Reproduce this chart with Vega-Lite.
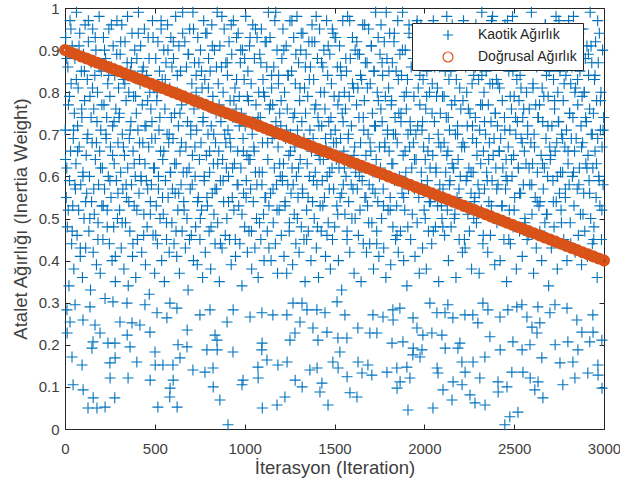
{
"$schema": "https://vega.github.io/schema/vega-lite/v6.json",
"width": 539, "height": 421,
"autosize": {"type": "none"},
"padding": {"left": 65, "top": 8, "right": 16, "bottom": 59},
"background": "white",
"config": {
 "font": "Liberation Sans",
 "view": {"stroke": "#262626", "strokeWidth": 1},
 "axis": {"domain": false, "grid": false, "tickSize": -5, "tickColor": "#262626", "tickWidth": 1, "labelFlush": false, "labelFont": "Liberation Sans", "labelFontSize": 15, "labelColor": "#404040", "titleFont": "Liberation Sans", "titleFontSize": 18.5, "titleFontWeight": "normal", "titleColor": "#404040"},
 "legend": {"title": null, "padding": 5, "strokeColor": "#262626", "fillColor": "white", "labelFont": "Liberation Sans", "labelFontSize": 14, "labelColor": "#262626", "symbolSize": 100, "symbolOffset": 24, "labelOffset": 23, "rowPadding": 6, "labelLimit": 300, "symbolStrokeWidth": 1.2}
},
"layer": [
 {
  "data": {"values": [
{"t":1,"w":0.71},{"t":4,"w":0.93},{"t":7,"w":0.55},{"t":10,"w":0.62},{"t":13,"w":0.48},{"t":16,"w":0.86},{"t":19,"w":0.77},{"t":22,"w":0.34},{"t":25,"w":0.59},{"t":28,"w":0.97},{"t":31,"w":0.66},{"t":34,"w":0.82},{"t":37,"w":0.44},{"t":40,"w":0.91},{"t":43,"w":0.53},{"t":46,"w":0.69},{"t":49,"w":0.38},{"t":52,"w":0.75},{"t":55,"w":0.88},{"t":58,"w":0.57},
{"t":61,"w":0.63},{"t":64,"w":0.99},{"t":67,"w":0.46},{"t":70,"w":0.72},{"t":73,"w":0.81},{"t":76,"w":0.52},{"t":79,"w":0.67},{"t":82,"w":0.94},{"t":85,"w":0.41},{"t":88,"w":0.58},{"t":91,"w":0.85},{"t":94,"w":0.74},{"t":97,"w":0.36},{"t":100,"w":0.61},{"t":103,"w":0.89},{"t":106,"w":0.50},{"t":109,"w":0.78},{"t":112,"w":0.96},{"t":115,"w":0.43},{"t":118,"w":0.65},
{"t":121,"w":0.56},{"t":124,"w":0.83},{"t":127,"w":0.70},{"t":130,"w":0.92},{"t":133,"w":0.47},{"t":136,"w":0.60},{"t":139,"w":0.79},{"t":142,"w":0.33},{"t":145,"w":0.87},{"t":148,"w":0.54},{"t":151,"w":0.68},{"t":154,"w":0.95},{"t":157,"w":0.42},{"t":160,"w":0.76},{"t":163,"w":0.51},{"t":166,"w":0.84},{"t":169,"w":0.64},{"t":172,"w":0.90},{"t":175,"w":0.39},{"t":178,"w":0.73},
{"t":181,"w":0.80},{"t":184,"w":0.49},{"t":187,"w":0.58},{"t":190,"w":0.98},{"t":193,"w":0.66},{"t":196,"w":0.37},{"t":199,"w":0.71},{"t":202,"w":0.85},{"t":205,"w":0.53},{"t":208,"w":0.62},{"t":211,"w":0.45},{"t":214,"w":0.93},{"t":217,"w":0.77},{"t":220,"w":0.57},{"t":223,"w":0.31},{"t":226,"w":0.88},{"t":229,"w":0.69},{"t":232,"w":0.74},{"t":235,"w":0.52},{"t":238,"w":0.82},
{"t":241,"w":0.60},{"t":244,"w":0.95},{"t":247,"w":0.44},{"t":250,"w":0.79},{"t":253,"w":0.67},{"t":256,"w":0.55},{"t":259,"w":0.86},{"t":262,"w":0.40},{"t":265,"w":0.72},{"t":268,"w":0.91},{"t":271,"w":0.48},{"t":274,"w":0.63},{"t":277,"w":0.84},{"t":280,"w":0.35},{"t":283,"w":0.76},{"t":286,"w":0.59},{"t":289,"w":0.97},{"t":292,"w":0.50},{"t":295,"w":0.68},{"t":298,"w":0.81},
{"t":301,"w":0.74},{"t":304,"w":0.52},{"t":307,"w":0.89},{"t":310,"w":0.61},{"t":313,"w":0.43},{"t":316,"w":0.96},{"t":319,"w":0.70},{"t":322,"w":0.57},{"t":325,"w":0.83},{"t":328,"w":0.38},{"t":331,"w":0.65},{"t":334,"w":0.92},{"t":337,"w":0.49},{"t":340,"w":0.78},{"t":343,"w":0.55},{"t":346,"w":0.87},{"t":349,"w":0.62},{"t":352,"w":0.34},{"t":355,"w":0.80},{"t":358,"w":0.69},
{"t":361,"w":0.47},{"t":364,"w":0.85},{"t":367,"w":0.73},{"t":370,"w":0.58},{"t":373,"w":0.94},{"t":376,"w":0.41},{"t":379,"w":0.66},{"t":382,"w":0.79},{"t":385,"w":0.53},{"t":388,"w":0.90},{"t":391,"w":0.60},{"t":394,"w":0.36},{"t":397,"w":0.75},{"t":400,"w":0.88},{"t":403,"w":0.45},{"t":406,"w":0.71},{"t":409,"w":0.99},{"t":412,"w":0.56},{"t":415,"w":0.64},{"t":418,"w":0.82},
{"t":421,"w":0.91},{"t":424,"w":0.59},{"t":427,"w":0.42},{"t":430,"w":0.77},{"t":433,"w":0.68},{"t":436,"w":0.86},{"t":439,"w":0.51},{"t":442,"w":0.95},{"t":445,"w":0.63},{"t":448,"w":0.39},{"t":451,"w":0.72},{"t":454,"w":0.84},{"t":457,"w":0.48},{"t":460,"w":0.57},{"t":463,"w":0.93},{"t":466,"w":0.67},{"t":469,"w":0.32},{"t":472,"w":0.80},{"t":475,"w":0.54},{"t":478,"w":0.76},
{"t":481,"w":0.58},{"t":484,"w":0.73},{"t":487,"w":0.97},{"t":490,"w":0.46},{"t":493,"w":0.62},{"t":496,"w":0.81},{"t":499,"w":0.37},{"t":502,"w":0.69},{"t":505,"w":0.88},{"t":508,"w":0.53},{"t":511,"w":0.78},{"t":514,"w":0.44},{"t":517,"w":0.92},{"t":520,"w":0.60},{"t":523,"w":0.71},{"t":526,"w":0.85},{"t":529,"w":0.50},{"t":532,"w":0.66},{"t":535,"w":0.95},{"t":538,"w":0.40},
{"t":541,"w":0.83},{"t":544,"w":0.64},{"t":547,"w":0.51},{"t":550,"w":0.90},{"t":553,"w":0.35},{"t":556,"w":0.76},{"t":559,"w":0.59},{"t":562,"w":0.87},{"t":565,"w":0.45},{"t":568,"w":0.70},{"t":571,"w":0.96},{"t":574,"w":0.55},{"t":577,"w":0.68},{"t":580,"w":0.42},{"t":583,"w":0.81},{"t":586,"w":0.61},{"t":589,"w":0.93},{"t":592,"w":0.74},{"t":595,"w":0.49},{"t":598,"w":0.57},
{"t":601,"w":0.69},{"t":604,"w":0.88},{"t":607,"w":0.44},{"t":610,"w":0.75},{"t":613,"w":0.56},{"t":616,"w":0.98},{"t":619,"w":0.63},{"t":622,"w":0.41},{"t":625,"w":0.80},{"t":628,"w":0.52},{"t":631,"w":0.72},{"t":634,"w":0.91},{"t":637,"w":0.37},{"t":640,"w":0.66},{"t":643,"w":0.85},{"t":646,"w":0.58},{"t":649,"w":0.77},{"t":652,"w":0.47},{"t":655,"w":0.94},{"t":658,"w":0.61},
{"t":661,"w":0.54},{"t":664,"w":0.79},{"t":667,"w":0.92},{"t":670,"w":0.43},{"t":673,"w":0.67},{"t":676,"w":0.86},{"t":679,"w":0.50},{"t":682,"w":0.73},{"t":685,"w":0.33},{"t":688,"w":0.89},{"t":691,"w":0.62},{"t":694,"w":0.95},{"t":697,"w":0.57},{"t":700,"w":0.70},{"t":703,"w":0.46},{"t":706,"w":0.82},{"t":709,"w":0.65},{"t":712,"w":0.99},{"t":715,"w":0.40},{"t":718,"w":0.76},
{"t":721,"w":0.87},{"t":724,"w":0.60},{"t":727,"w":0.48},{"t":730,"w":0.84},{"t":733,"w":0.71},{"t":736,"w":0.39},{"t":739,"w":0.93},{"t":742,"w":0.55},{"t":745,"w":0.78},{"t":748,"w":0.64},{"t":751,"w":0.45},{"t":754,"w":0.90},{"t":757,"w":0.68},{"t":760,"w":0.52},{"t":763,"w":0.81},{"t":766,"w":0.36},{"t":769,"w":0.74},{"t":772,"w":0.97},{"t":775,"w":0.59},{"t":778,"w":0.83},
{"t":781,"w":0.42},{"t":784,"w":0.77},{"t":787,"w":0.65},{"t":790,"w":0.94},{"t":793,"w":0.53},{"t":796,"w":0.70},{"t":799,"w":0.88},{"t":802,"w":0.47},{"t":805,"w":0.61},{"t":808,"w":0.85},{"t":811,"w":0.38},{"t":814,"w":0.72},{"t":817,"w":0.96},{"t":820,"w":0.56},{"t":823,"w":0.79},{"t":826,"w":0.63},{"t":829,"w":0.51},{"t":832,"w":0.90},{"t":835,"w":0.44},{"t":838,"w":0.68},
{"t":841,"w":0.75},{"t":844,"w":0.57},{"t":847,"w":0.99},{"t":850,"w":0.49},{"t":853,"w":0.82},{"t":856,"w":0.66},{"t":859,"w":0.35},{"t":862,"w":0.91},{"t":865,"w":0.59},{"t":868,"w":0.73},{"t":871,"w":0.86},{"t":874,"w":0.43},{"t":877,"w":0.64},{"t":880,"w":0.80},{"t":883,"w":0.54},{"t":886,"w":0.95},{"t":889,"w":0.70},{"t":892,"w":0.46},{"t":895,"w":0.87},{"t":898,"w":0.62},
{"t":901,"w":0.50},{"t":904,"w":0.84},{"t":907,"w":0.71},{"t":910,"w":0.60},{"t":913,"w":0.92},{"t":916,"w":0.45},{"t":919,"w":0.78},{"t":922,"w":0.67},{"t":925,"w":0.39},{"t":928,"w":0.89},{"t":931,"w":0.55},{"t":934,"w":0.74},{"t":937,"w":0.97},{"t":940,"w":0.52},{"t":943,"w":0.63},{"t":946,"w":0.81},{"t":949,"w":0.41},{"t":952,"w":0.76},{"t":955,"w":0.93},{"t":958,"w":0.58},
{"t":961,"w":0.66},{"t":964,"w":0.94},{"t":967,"w":0.53},{"t":970,"w":0.79},{"t":973,"w":0.44},{"t":976,"w":0.87},{"t":979,"w":0.62},{"t":982,"w":0.75},{"t":985,"w":0.34},{"t":988,"w":0.90},{"t":991,"w":0.69},{"t":994,"w":0.56},{"t":997,"w":0.83},{"t":1000,"w":0.48},{"t":1003,"w":0.72},{"t":1006,"w":0.98},{"t":1009,"w":0.59},{"t":1012,"w":0.65},{"t":1015,"w":0.42},{"t":1018,"w":0.85},
{"t":1021,"w":0.78},{"t":1024,"w":0.47},{"t":1027,"w":0.91},{"t":1030,"w":0.64},{"t":1033,"w":0.57},{"t":1036,"w":0.82},{"t":1039,"w":0.38},{"t":1042,"w":0.70},{"t":1045,"w":0.96},{"t":1048,"w":0.54},{"t":1051,"w":0.67},{"t":1054,"w":0.88},{"t":1057,"w":0.43},{"t":1060,"w":0.61},{"t":1063,"w":0.77},{"t":1066,"w":0.50},{"t":1069,"w":0.93},{"t":1072,"w":0.73},{"t":1075,"w":0.36},{"t":1078,"w":0.80},
{"t":1081,"w":0.61},{"t":1084,"w":0.89},{"t":1087,"w":0.74},{"t":1090,"w":0.45},{"t":1093,"w":0.95},{"t":1096,"w":0.58},{"t":1099,"w":0.68},{"t":1102,"w":0.83},{"t":1105,"w":0.51},{"t":1108,"w":0.40},{"t":1111,"w":0.79},{"t":1114,"w":0.92},{"t":1117,"w":0.55},{"t":1120,"w":0.71},{"t":1123,"w":0.86},{"t":1126,"w":0.47},{"t":1129,"w":0.64},{"t":1132,"w":0.99},{"t":1135,"w":0.53},{"t":1138,"w":0.76},
{"t":1141,"w":0.93},{"t":1144,"w":0.56},{"t":1147,"w":0.40},{"t":1150,"w":0.81},{"t":1153,"w":0.69},{"t":1156,"w":0.77},{"t":1159,"w":0.49},{"t":1162,"w":0.86},{"t":1165,"w":0.62},{"t":1168,"w":0.97},{"t":1171,"w":0.44},{"t":1174,"w":0.73},{"t":1177,"w":0.58},{"t":1180,"w":0.90},{"t":1183,"w":0.37},{"t":1186,"w":0.67},{"t":1189,"w":0.84},{"t":1192,"w":0.52},{"t":1195,"w":0.75},{"t":1198,"w":0.60},
{"t":1201,"w":0.72},{"t":1204,"w":0.46},{"t":1207,"w":0.88},{"t":1210,"w":0.59},{"t":1213,"w":0.95},{"t":1216,"w":0.63},{"t":1219,"w":0.41},{"t":1222,"w":0.80},{"t":1225,"w":0.54},{"t":1228,"w":0.69},{"t":1231,"w":0.91},{"t":1234,"w":0.37},{"t":1237,"w":0.76},{"t":1240,"w":0.58},{"t":1243,"w":0.84},{"t":1246,"w":0.65},{"t":1249,"w":0.49},{"t":1252,"w":0.97},{"t":1255,"w":0.70},{"t":1258,"w":0.56},
{"t":1261,"w":0.85},{"t":1264,"w":0.62},{"t":1267,"w":0.39},{"t":1270,"w":0.74},{"t":1273,"w":0.93},{"t":1276,"w":0.51},{"t":1279,"w":0.67},{"t":1282,"w":0.82},{"t":1285,"w":0.44},{"t":1288,"w":0.60},{"t":1291,"w":0.98},{"t":1294,"w":0.71},{"t":1297,"w":0.55},{"t":1300,"w":0.87},{"t":1303,"w":0.42},{"t":1306,"w":0.78},{"t":1309,"w":0.64},{"t":1312,"w":0.90},{"t":1315,"w":0.48},{"t":1318,"w":0.73},
{"t":1321,"w":0.57},{"t":1324,"w":0.94},{"t":1327,"w":0.68},{"t":1330,"w":0.45},{"t":1333,"w":0.81},{"t":1336,"w":0.35},{"t":1339,"w":0.75},{"t":1342,"w":0.89},{"t":1345,"w":0.52},{"t":1348,"w":0.63},{"t":1351,"w":0.79},{"t":1354,"w":0.47},{"t":1357,"w":0.92},{"t":1360,"w":0.60},{"t":1363,"w":0.71},{"t":1366,"w":0.86},{"t":1369,"w":0.40},{"t":1372,"w":0.66},{"t":1375,"w":0.96},{"t":1378,"w":0.54},
{"t":1381,"w":0.69},{"t":1384,"w":0.83},{"t":1387,"w":0.50},{"t":1390,"w":0.92},{"t":1393,"w":0.61},{"t":1396,"w":0.77},{"t":1399,"w":0.43},{"t":1402,"w":0.58},{"t":1405,"w":0.88},{"t":1408,"w":0.74},{"t":1411,"w":0.36},{"t":1414,"w":0.65},{"t":1417,"w":0.95},{"t":1420,"w":0.53},{"t":1423,"w":0.80},{"t":1426,"w":0.47},{"t":1429,"w":0.72},{"t":1432,"w":0.59},{"t":1435,"w":0.86},{"t":1438,"w":0.64},
{"t":1441,"w":0.90},{"t":1444,"w":0.55},{"t":1447,"w":0.76},{"t":1450,"w":0.41},{"t":1453,"w":0.67},{"t":1456,"w":0.97},{"t":1459,"w":0.60},{"t":1462,"w":0.84},{"t":1465,"w":0.49},{"t":1468,"w":0.73},{"t":1471,"w":0.57},{"t":1474,"w":0.89},{"t":1477,"w":0.38},{"t":1480,"w":0.70},{"t":1483,"w":0.82},{"t":1486,"w":0.62},{"t":1489,"w":0.45},{"t":1492,"w":0.94},{"t":1495,"w":0.68},{"t":1498,"w":0.79},
{"t":1501,"w":0.48},{"t":1504,"w":0.71},{"t":1507,"w":0.93},{"t":1510,"w":0.64},{"t":1513,"w":0.53},{"t":1516,"w":0.86},{"t":1519,"w":0.77},{"t":1522,"w":0.40},{"t":1525,"w":0.62},{"t":1528,"w":0.91},{"t":1531,"w":0.55},{"t":1534,"w":0.69},{"t":1537,"w":0.84},{"t":1540,"w":0.33},{"t":1543,"w":0.75},{"t":1546,"w":0.97},{"t":1549,"w":0.58},{"t":1552,"w":0.66},{"t":1555,"w":0.80},{"t":1558,"w":0.51},
{"t":1561,"w":0.76},{"t":1564,"w":0.60},{"t":1567,"w":0.85},{"t":1570,"w":0.47},{"t":1573,"w":0.98},{"t":1576,"w":0.69},{"t":1579,"w":0.54},{"t":1582,"w":0.79},{"t":1585,"w":0.42},{"t":1588,"w":0.88},{"t":1591,"w":0.63},{"t":1594,"w":0.72},{"t":1597,"w":0.50},{"t":1600,"w":0.93},{"t":1603,"w":0.57},{"t":1606,"w":0.81},{"t":1609,"w":0.37},{"t":1612,"w":0.67},{"t":1615,"w":0.90},{"t":1618,"w":0.61},
{"t":1621,"w":0.63},{"t":1624,"w":0.92},{"t":1627,"w":0.57},{"t":1630,"w":0.81},{"t":1633,"w":0.46},{"t":1636,"w":0.74},{"t":1639,"w":0.89},{"t":1642,"w":0.52},{"t":1645,"w":0.68},{"t":1648,"w":0.35},{"t":1651,"w":0.83},{"t":1654,"w":0.59},{"t":1657,"w":0.96},{"t":1660,"w":0.44},{"t":1663,"w":0.71},{"t":1666,"w":0.78},{"t":1669,"w":0.55},{"t":1672,"w":0.87},{"t":1675,"w":0.65},{"t":1678,"w":0.42},
{"t":1681,"w":0.87},{"t":1684,"w":0.53},{"t":1687,"w":0.70},{"t":1690,"w":0.95},{"t":1693,"w":0.58},{"t":1696,"w":0.44},{"t":1699,"w":0.82},{"t":1702,"w":0.66},{"t":1705,"w":0.91},{"t":1708,"w":0.49},{"t":1711,"w":0.75},{"t":1714,"w":0.61},{"t":1717,"w":0.38},{"t":1720,"w":0.85},{"t":1723,"w":0.72},{"t":1726,"w":0.56},{"t":1729,"w":0.99},{"t":1732,"w":0.64},{"t":1735,"w":0.47},{"t":1738,"w":0.80},
{"t":1741,"w":0.54},{"t":1744,"w":0.78},{"t":1747,"w":0.41},{"t":1750,"w":0.67},{"t":1753,"w":0.89},{"t":1756,"w":0.62},{"t":1759,"w":0.96},{"t":1762,"w":0.50},{"t":1765,"w":0.73},{"t":1768,"w":0.84},{"t":1771,"w":0.57},{"t":1774,"w":0.43},{"t":1777,"w":0.92},{"t":1780,"w":0.68},{"t":1783,"w":0.79},{"t":1786,"w":0.36},{"t":1789,"w":0.60},{"t":1792,"w":0.88},{"t":1795,"w":0.71},{"t":1798,"w":0.52},
{"t":1801,"w":0.81},{"t":1804,"w":0.66},{"t":1807,"w":0.94},{"t":1810,"w":0.55},{"t":1813,"w":0.39},{"t":1816,"w":0.77},{"t":1819,"w":0.63},{"t":1822,"w":0.87},{"t":1825,"w":0.48},{"t":1828,"w":0.70},{"t":1831,"w":0.92},{"t":1834,"w":0.59},{"t":1837,"w":0.74},{"t":1840,"w":0.45},{"t":1843,"w":0.85},{"t":1846,"w":0.53},{"t":1849,"w":0.68},{"t":1852,"w":0.97},{"t":1855,"w":0.42},{"t":1858,"w":0.75},
{"t":1861,"w":0.60},{"t":1864,"w":0.89},{"t":1867,"w":0.47},{"t":1870,"w":0.73},{"t":1873,"w":0.84},{"t":1876,"w":0.56},{"t":1879,"w":0.99},{"t":1882,"w":0.65},{"t":1885,"w":0.40},{"t":1888,"w":0.79},{"t":1891,"w":0.52},{"t":1894,"w":0.90},{"t":1897,"w":0.61},{"t":1900,"w":0.76},{"t":1903,"w":0.34},{"t":1906,"w":0.83},{"t":1909,"w":0.70},{"t":1912,"w":0.57},{"t":1915,"w":0.94},{"t":1918,"w":0.67},
{"t":1921,"w":0.73},{"t":1924,"w":0.45},{"t":1927,"w":0.86},{"t":1930,"w":0.62},{"t":1933,"w":0.51},{"t":1936,"w":0.93},{"t":1939,"w":0.68},{"t":1942,"w":0.79},{"t":1945,"w":0.57},{"t":1948,"w":0.41},{"t":1951,"w":0.88},{"t":1954,"w":0.64},{"t":1957,"w":0.96},{"t":1960,"w":0.49},{"t":1963,"w":0.72},{"t":1966,"w":0.81},{"t":1969,"w":0.55},{"t":1972,"w":0.37},{"t":1975,"w":0.77},{"t":1978,"w":0.91},
{"t":1981,"w":0.96},{"t":1984,"w":0.58},{"t":1987,"w":0.71},{"t":1990,"w":0.43},{"t":1993,"w":0.83},{"t":1996,"w":0.67},{"t":1999,"w":0.52},{"t":2002,"w":0.90},{"t":2005,"w":0.64},{"t":2008,"w":0.76},{"t":2011,"w":0.38},{"t":2014,"w":0.85},{"t":2017,"w":0.59},{"t":2020,"w":0.94},{"t":2023,"w":0.47},{"t":2026,"w":0.69},{"t":2029,"w":0.80},{"t":2032,"w":0.62},{"t":2035,"w":0.54},{"t":2038,"w":0.88},
{"t":2041,"w":0.44},{"t":2044,"w":0.82},{"t":2047,"w":0.65},{"t":2050,"w":0.97},{"t":2053,"w":0.56},{"t":2056,"w":0.73},{"t":2059,"w":0.89},{"t":2062,"w":0.48},{"t":2065,"w":0.61},{"t":2068,"w":0.79},{"t":2071,"w":0.93},{"t":2074,"w":0.53},{"t":2077,"w":0.70},{"t":2080,"w":0.35},{"t":2083,"w":0.86},{"t":2086,"w":0.58},{"t":2089,"w":0.75},{"t":2092,"w":0.67},{"t":2095,"w":0.91},{"t":2098,"w":0.50},
{"t":2101,"w":0.79},{"t":2104,"w":0.57},{"t":2107,"w":0.92},{"t":2110,"w":0.68},{"t":2113,"w":0.46},{"t":2116,"w":0.85},{"t":2119,"w":0.61},{"t":2122,"w":0.74},{"t":2125,"w":0.98},{"t":2128,"w":0.52},{"t":2131,"w":0.66},{"t":2134,"w":0.40},{"t":2137,"w":0.83},{"t":2140,"w":0.71},{"t":2143,"w":0.59},{"t":2146,"w":0.95},{"t":2149,"w":0.48},{"t":2152,"w":0.77},{"t":2155,"w":0.63},{"t":2158,"w":0.87},
{"t":2161,"w":0.62},{"t":2164,"w":0.91},{"t":2167,"w":0.50},{"t":2170,"w":0.78},{"t":2173,"w":0.70},{"t":2176,"w":0.36},{"t":2179,"w":0.87},{"t":2182,"w":0.55},{"t":2185,"w":0.72},{"t":2188,"w":0.64},{"t":2191,"w":0.94},{"t":2194,"w":0.45},{"t":2197,"w":0.81},{"t":2200,"w":0.60},{"t":2203,"w":0.76},{"t":2206,"w":0.53},{"t":2209,"w":0.89},{"t":2212,"w":0.42},{"t":2215,"w":0.68},{"t":2218,"w":0.97},
{"t":2221,"w":0.88},{"t":2224,"w":0.67},{"t":2227,"w":0.43},{"t":2230,"w":0.86},{"t":2233,"w":0.59},{"t":2236,"w":0.80},{"t":2239,"w":0.72},{"t":2242,"w":0.51},{"t":2245,"w":0.95},{"t":2248,"w":0.62},{"t":2251,"w":0.47},{"t":2254,"w":0.75},{"t":2257,"w":0.90},{"t":2260,"w":0.56},{"t":2263,"w":0.38},{"t":2266,"w":0.82},{"t":2269,"w":0.69},{"t":2272,"w":0.61},{"t":2275,"w":0.84},{"t":2278,"w":0.54},
{"t":2281,"w":0.55},{"t":2284,"w":0.74},{"t":2287,"w":0.96},{"t":2290,"w":0.49},{"t":2293,"w":0.65},{"t":2296,"w":0.91},{"t":2299,"w":0.58},{"t":2302,"w":0.83},{"t":2305,"w":0.37},{"t":2308,"w":0.71},{"t":2311,"w":0.86},{"t":2314,"w":0.63},{"t":2317,"w":0.52},{"t":2320,"w":0.99},{"t":2323,"w":0.77},{"t":2326,"w":0.44},{"t":2329,"w":0.66},{"t":2332,"w":0.80},{"t":2335,"w":0.57},{"t":2338,"w":0.93},
{"t":2341,"w":0.70},{"t":2344,"w":0.85},{"t":2347,"w":0.61},{"t":2350,"w":0.92},{"t":2353,"w":0.42},{"t":2356,"w":0.77},{"t":2359,"w":0.54},{"t":2362,"w":0.68},{"t":2365,"w":0.89},{"t":2368,"w":0.46},{"t":2371,"w":0.73},{"t":2374,"w":0.97},{"t":2377,"w":0.59},{"t":2380,"w":0.82},{"t":2383,"w":0.65},{"t":2386,"w":0.50},{"t":2389,"w":0.87},{"t":2392,"w":0.39},{"t":2395,"w":0.75},{"t":2398,"w":0.62},
{"t":2401,"w":0.83},{"t":2404,"w":0.49},{"t":2407,"w":0.72},{"t":2410,"w":0.58},{"t":2413,"w":0.94},{"t":2416,"w":0.66},{"t":2419,"w":0.81},{"t":2422,"w":0.40},{"t":2425,"w":0.69},{"t":2428,"w":0.90},{"t":2431,"w":0.53},{"t":2434,"w":0.78},{"t":2437,"w":0.62},{"t":2440,"w":0.87},{"t":2443,"w":0.45},{"t":2446,"w":0.74},{"t":2449,"w":0.96},{"t":2452,"w":0.57},{"t":2455,"w":0.64},{"t":2458,"w":0.35},
{"t":2461,"w":0.59},{"t":2464,"w":0.93},{"t":2467,"w":0.67},{"t":2470,"w":0.85},{"t":2473,"w":0.52},{"t":2476,"w":0.71},{"t":2479,"w":0.44},{"t":2482,"w":0.88},{"t":2485,"w":0.76},{"t":2488,"w":0.60},{"t":2491,"w":0.98},{"t":2494,"w":0.48},{"t":2497,"w":0.65},{"t":2500,"w":0.79},{"t":2503,"w":0.55},{"t":2506,"w":0.91},{"t":2509,"w":0.70},{"t":2512,"w":0.38},{"t":2515,"w":0.83},{"t":2518,"w":0.73},
{"t":2521,"w":0.91},{"t":2524,"w":0.62},{"t":2527,"w":0.78},{"t":2530,"w":0.47},{"t":2533,"w":0.84},{"t":2536,"w":0.56},{"t":2539,"w":0.69},{"t":2542,"w":0.95},{"t":2545,"w":0.41},{"t":2548,"w":0.74},{"t":2551,"w":0.58},{"t":2554,"w":0.87},{"t":2557,"w":0.66},{"t":2560,"w":0.50},{"t":2563,"w":0.93},{"t":2566,"w":0.63},{"t":2569,"w":0.80},{"t":2572,"w":0.45},{"t":2575,"w":0.72},{"t":2578,"w":0.89},
{"t":2581,"w":0.46},{"t":2584,"w":0.76},{"t":2587,"w":0.58},{"t":2590,"w":0.89},{"t":2593,"w":0.68},{"t":2596,"w":0.99},{"t":2599,"w":0.51},{"t":2602,"w":0.63},{"t":2605,"w":0.82},{"t":2608,"w":0.37},{"t":2611,"w":0.70},{"t":2614,"w":0.92},{"t":2617,"w":0.55},{"t":2620,"w":0.77},{"t":2623,"w":0.43},{"t":2626,"w":0.86},{"t":2629,"w":0.61},{"t":2632,"w":0.74},{"t":2635,"w":0.95},{"t":2638,"w":0.53},
{"t":2641,"w":0.77},{"t":2644,"w":0.54},{"t":2647,"w":0.92},{"t":2650,"w":0.65},{"t":2653,"w":0.40},{"t":2656,"w":0.81},{"t":2659,"w":0.73},{"t":2662,"w":0.57},{"t":2665,"w":0.88},{"t":2668,"w":0.62},{"t":2671,"w":0.49},{"t":2674,"w":0.96},{"t":2677,"w":0.69},{"t":2680,"w":0.84},{"t":2683,"w":0.51},{"t":2686,"w":0.60},{"t":2689,"w":0.79},{"t":2692,"w":0.34},{"t":2695,"w":0.90},{"t":2698,"w":0.67},
{"t":2701,"w":0.64},{"t":2704,"w":0.87},{"t":2707,"w":0.43},{"t":2710,"w":0.72},{"t":2713,"w":0.95},{"t":2716,"w":0.59},{"t":2719,"w":0.83},{"t":2722,"w":0.48},{"t":2725,"w":0.76},{"t":2728,"w":0.66},{"t":2731,"w":0.91},{"t":2734,"w":0.54},{"t":2737,"w":0.68},{"t":2740,"w":0.38},{"t":2743,"w":0.80},{"t":2746,"w":0.73},{"t":2749,"w":0.97},{"t":2752,"w":0.56},{"t":2755,"w":0.85},{"t":2758,"w":0.61},
{"t":2761,"w":0.52},{"t":2764,"w":0.70},{"t":2767,"w":0.89},{"t":2770,"w":0.61},{"t":2773,"w":0.78},{"t":2776,"w":0.45},{"t":2779,"w":0.93},{"t":2782,"w":0.67},{"t":2785,"w":0.55},{"t":2788,"w":0.84},{"t":2791,"w":0.71},{"t":2794,"w":0.40},{"t":2797,"w":0.86},{"t":2800,"w":0.63},{"t":2803,"w":0.97},{"t":2806,"w":0.58},{"t":2809,"w":0.75},{"t":2812,"w":0.49},{"t":2815,"w":0.82},{"t":2818,"w":0.69},
{"t":2821,"w":0.86},{"t":2824,"w":0.60},{"t":2827,"w":0.74},{"t":2830,"w":0.98},{"t":2833,"w":0.53},{"t":2836,"w":0.66},{"t":2839,"w":0.42},{"t":2842,"w":0.81},{"t":2845,"w":0.69},{"t":2848,"w":0.90},{"t":2851,"w":0.57},{"t":2854,"w":0.77},{"t":2857,"w":0.46},{"t":2860,"w":0.94},{"t":2863,"w":0.62},{"t":2866,"w":0.85},{"t":2869,"w":0.51},{"t":2872,"w":0.72},{"t":2875,"w":0.39},{"t":2878,"w":0.79},
{"t":2881,"w":0.68},{"t":2884,"w":0.95},{"t":2887,"w":0.56},{"t":2890,"w":0.80},{"t":2893,"w":0.47},{"t":2896,"w":0.88},{"t":2899,"w":0.63},{"t":2902,"w":0.73},{"t":2905,"w":0.91},{"t":2908,"w":0.41},{"t":2911,"w":0.65},{"t":2914,"w":0.84},{"t":2917,"w":0.59},{"t":2920,"w":0.76},{"t":2923,"w":0.99},{"t":2926,"w":0.50},{"t":2929,"w":0.70},{"t":2932,"w":0.87},{"t":2935,"w":0.44},{"t":2938,"w":0.62},
{"t":2941,"w":0.75},{"t":2944,"w":0.48},{"t":2947,"w":0.83},{"t":2950,"w":0.66},{"t":2953,"w":0.92},{"t":2956,"w":0.55},{"t":2959,"w":0.78},{"t":2962,"w":0.36},{"t":2965,"w":0.69},{"t":2968,"w":0.87},{"t":2971,"w":0.60},{"t":2974,"w":0.94},{"t":2977,"w":0.53},{"t":2980,"w":0.71},{"t":2983,"w":0.80},{"t":2986,"w":0.45},{"t":2989,"w":0.67},{"t":2992,"w":0.90},{"t":2995,"w":0.58},{"t":2998,"w":0.74},
{"t":3,"w":0.64},{"t":10,"w":0.88},{"t":18,"w":0.52},{"t":25,"w":0.79},{"t":33,"w":0.95},{"t":40,"w":0.47},{"t":48,"w":0.71},{"t":55,"w":0.58},{"t":63,"w":0.83},{"t":70,"w":0.66},{"t":78,"w":0.91},{"t":85,"w":0.43},{"t":93,"w":0.76},{"t":100,"w":0.60},{"t":108,"w":0.85},{"t":115,"w":0.54},{"t":123,"w":0.69},{"t":130,"w":0.97},{"t":138,"w":0.50},{"t":145,"w":0.74},
{"t":153,"w":0.81},{"t":160,"w":0.57},{"t":168,"w":0.93},{"t":175,"w":0.68},{"t":183,"w":0.45},{"t":190,"w":0.86},{"t":198,"w":0.62},{"t":205,"w":0.77},{"t":213,"w":0.53},{"t":220,"w":0.90},{"t":228,"w":0.70},{"t":235,"w":0.48},{"t":243,"w":0.84},{"t":250,"w":0.59},{"t":258,"w":0.96},{"t":265,"w":0.65},{"t":273,"w":0.73},{"t":280,"w":0.41},{"t":288,"w":0.89},{"t":295,"w":0.56},
{"t":303,"w":0.75},{"t":310,"w":0.92},{"t":318,"w":0.49},{"t":325,"w":0.67},{"t":333,"w":0.82},{"t":340,"w":0.58},{"t":348,"w":0.98},{"t":355,"w":0.54},{"t":363,"w":0.71},{"t":370,"w":0.87},{"t":378,"w":0.44},{"t":385,"w":0.63},{"t":393,"w":0.79},{"t":400,"w":0.52},{"t":408,"w":0.94},{"t":415,"w":0.68},{"t":423,"w":0.60},{"t":430,"w":0.85},{"t":438,"w":0.46},{"t":445,"w":0.72},
{"t":453,"w":0.59},{"t":460,"w":0.78},{"t":468,"w":0.88},{"t":475,"w":0.51},{"t":483,"w":0.69},{"t":490,"w":0.93},{"t":498,"w":0.62},{"t":505,"w":0.46},{"t":513,"w":0.80},{"t":520,"w":0.57},{"t":528,"w":0.74},{"t":535,"w":0.97},{"t":543,"w":0.55},{"t":550,"w":0.66},{"t":558,"w":0.83},{"t":565,"w":0.49},{"t":573,"w":0.90},{"t":580,"w":0.70},{"t":588,"w":0.61},{"t":595,"w":0.86},
{"t":603,"w":0.92},{"t":610,"w":0.63},{"t":618,"w":0.47},{"t":625,"w":0.84},{"t":633,"w":0.56},{"t":640,"w":0.75},{"t":648,"w":0.68},{"t":655,"w":0.99},{"t":663,"w":0.52},{"t":670,"w":0.79},{"t":678,"w":0.61},{"t":685,"w":0.89},{"t":693,"w":0.45},{"t":700,"w":0.72},{"t":708,"w":0.58},{"t":715,"w":0.95},{"t":723,"w":0.67},{"t":730,"w":0.80},{"t":738,"w":0.54},{"t":745,"w":0.87},
{"t":753,"w":0.50},{"t":760,"w":0.85},{"t":768,"w":0.73},{"t":775,"w":0.60},{"t":783,"w":0.94},{"t":790,"w":0.55},{"t":798,"w":0.81},{"t":805,"w":0.66},{"t":813,"w":0.48},{"t":820,"w":0.91},{"t":828,"w":0.70},{"t":835,"w":0.57},{"t":843,"w":0.86},{"t":850,"w":0.63},{"t":858,"w":0.77},{"t":865,"w":0.44},{"t":873,"w":0.98},{"t":880,"w":0.59},{"t":888,"w":0.75},{"t":895,"w":0.68},
{"t":903,"w":0.87},{"t":910,"w":0.54},{"t":918,"w":0.69},{"t":925,"w":0.96},{"t":933,"w":0.62},{"t":940,"w":0.78},{"t":948,"w":0.45},{"t":955,"w":0.83},{"t":963,"w":0.58},{"t":970,"w":0.72},{"t":978,"w":0.90},{"t":985,"w":0.51},{"t":993,"w":0.66},{"t":1000,"w":0.88},{"t":1008,"w":0.55},{"t":1015,"w":0.79},{"t":1023,"w":0.64},{"t":1030,"w":0.93},{"t":1038,"w":0.47},{"t":1045,"w":0.73},
{"t":1053,"w":0.66},{"t":1060,"w":0.95},{"t":1068,"w":0.58},{"t":1075,"w":0.74},{"t":1083,"w":0.49},{"t":1090,"w":0.87},{"t":1098,"w":0.61},{"t":1105,"w":0.80},{"t":1113,"w":0.55},{"t":1120,"w":0.92},{"t":1128,"w":0.68},{"t":1135,"w":0.43},{"t":1143,"w":0.77},{"t":1150,"w":0.84},{"t":1158,"w":0.57},{"t":1165,"w":0.70},{"t":1173,"w":0.99},{"t":1180,"w":0.52},{"t":1188,"w":0.82},{"t":1195,"w":0.63},
{"t":1203,"w":0.78},{"t":1210,"w":0.60},{"t":1218,"w":0.90},{"t":1225,"w":0.53},{"t":1233,"w":0.71},{"t":1240,"w":0.84},{"t":1248,"w":0.47},{"t":1255,"w":0.66},{"t":1263,"w":0.97},{"t":1270,"w":0.58},{"t":1278,"w":0.75},{"t":1285,"w":0.89},{"t":1293,"w":0.50},{"t":1300,"w":0.62},{"t":1308,"w":0.81},{"t":1315,"w":0.94},{"t":1323,"w":0.56},{"t":1330,"w":0.69},{"t":1338,"w":0.86},{"t":1345,"w":0.45},
{"t":1353,"w":0.55},{"t":1360,"w":0.83},{"t":1368,"w":0.67},{"t":1375,"w":0.92},{"t":1383,"w":0.59},{"t":1390,"w":0.76},{"t":1398,"w":0.98},{"t":1405,"w":0.48},{"t":1413,"w":0.72},{"t":1420,"w":0.64},{"t":1428,"w":0.87},{"t":1435,"w":0.53},{"t":1443,"w":0.80},{"t":1450,"w":0.69},{"t":1458,"w":0.46},{"t":1465,"w":0.91},{"t":1473,"w":0.61},{"t":1480,"w":0.74},{"t":1488,"w":0.95},{"t":1495,"w":0.57},
{"t":1503,"w":0.93},{"t":1510,"w":0.68},{"t":1518,"w":0.51},{"t":1525,"w":0.79},{"t":1533,"w":0.86},{"t":1540,"w":0.56},{"t":1548,"w":0.73},{"t":1555,"w":0.62},{"t":1563,"w":0.88},{"t":1570,"w":0.45},{"t":1578,"w":0.70},{"t":1585,"w":0.97},{"t":1593,"w":0.58},{"t":1600,"w":0.82},{"t":1608,"w":0.65},{"t":1615,"w":0.50},{"t":1623,"w":0.77},{"t":1630,"w":0.89},{"t":1638,"w":0.60},{"t":1645,"w":0.84},
{"t":1653,"w":0.62},{"t":1660,"w":0.74},{"t":1668,"w":0.96},{"t":1675,"w":0.55},{"t":1683,"w":0.81},{"t":1690,"w":0.49},{"t":1698,"w":0.68},{"t":1705,"w":0.91},{"t":1713,"w":0.57},{"t":1720,"w":0.85},{"t":1728,"w":0.72},{"t":1735,"w":0.44},{"t":1743,"w":0.93},{"t":1750,"w":0.60},{"t":1758,"w":0.76},{"t":1765,"w":0.87},{"t":1773,"w":0.53},{"t":1780,"w":0.67},{"t":1788,"w":0.99},{"t":1795,"w":0.70},
{"t":1803,"w":0.85},{"t":1810,"w":0.52},{"t":1818,"w":0.78},{"t":1825,"w":0.63},{"t":1833,"w":0.94},{"t":1840,"w":0.70},{"t":1848,"w":0.46},{"t":1855,"w":0.83},{"t":1863,"w":0.59},{"t":1870,"w":0.75},{"t":1878,"w":0.90},{"t":1885,"w":0.55},{"t":1893,"w":0.66},{"t":1900,"w":0.80},{"t":1908,"w":0.48},{"t":1915,"w":0.96},{"t":1923,"w":0.71},{"t":1930,"w":0.58},{"t":1938,"w":0.88},{"t":1945,"w":0.64},
{"t":1953,"w":0.70},{"t":1960,"w":0.97},{"t":1968,"w":0.57},{"t":1975,"w":0.84},{"t":1983,"w":0.61},{"t":1990,"w":0.73},{"t":1998,"w":0.89},{"t":2005,"w":0.50},{"t":2013,"w":0.79},{"t":2020,"w":0.66},{"t":2028,"w":0.54},{"t":2035,"w":0.92},{"t":2043,"w":0.75},{"t":2050,"w":0.47},{"t":2058,"w":0.86},{"t":2065,"w":0.62},{"t":2073,"w":0.81},{"t":2080,"w":0.68},{"t":2088,"w":0.93},{"t":2095,"w":0.53},
{"t":2103,"w":0.48},{"t":2110,"w":0.79},{"t":2118,"w":0.91},{"t":2125,"w":0.65},{"t":2133,"w":0.74},{"t":2140,"w":0.58},{"t":2148,"w":0.85},{"t":2155,"w":0.96},{"t":2163,"w":0.62},{"t":2170,"w":0.51},{"t":2178,"w":0.83},{"t":2185,"w":0.70},{"t":2193,"w":0.57},{"t":2200,"w":0.94},{"t":2208,"w":0.67},{"t":2215,"w":0.78},{"t":2223,"w":0.45},{"t":2230,"w":0.87},{"t":2238,"w":0.60},{"t":2245,"w":0.76},
{"t":2253,"w":0.89},{"t":2260,"w":0.61},{"t":2268,"w":0.72},{"t":2275,"w":0.50},{"t":2283,"w":0.86},{"t":2290,"w":0.68},{"t":2298,"w":0.95},{"t":2305,"w":0.56},{"t":2313,"w":0.77},{"t":2320,"w":0.84},{"t":2328,"w":0.46},{"t":2335,"w":0.73},{"t":2343,"w":0.91},{"t":2350,"w":0.59},{"t":2358,"w":0.64},{"t":2365,"w":0.82},{"t":2373,"w":0.53},{"t":2380,"w":0.98},{"t":2388,"w":0.69},{"t":2395,"w":0.75},
{"t":2403,"w":0.57},{"t":2410,"w":0.82},{"t":2418,"w":0.66},{"t":2425,"w":0.93},{"t":2433,"w":0.53},{"t":2440,"w":0.88},{"t":2448,"w":0.71},{"t":2455,"w":0.60},{"t":2463,"w":0.97},{"t":2470,"w":0.45},{"t":2478,"w":0.79},{"t":2485,"w":0.64},{"t":2493,"w":0.85},{"t":2500,"w":0.52},{"t":2508,"w":0.74},{"t":2515,"w":0.90},{"t":2523,"w":0.62},{"t":2530,"w":0.56},{"t":2538,"w":0.81},{"t":2545,"w":0.68},
{"t":2553,"w":0.76},{"t":2560,"w":0.49},{"t":2568,"w":0.87},{"t":2575,"w":0.70},{"t":2583,"w":0.62},{"t":2590,"w":0.95},{"t":2598,"w":0.58},{"t":2605,"w":0.81},{"t":2613,"w":0.67},{"t":2620,"w":0.92},{"t":2628,"w":0.54},{"t":2635,"w":0.74},{"t":2643,"w":0.47},{"t":2650,"w":0.88},{"t":2658,"w":0.63},{"t":2665,"w":0.79},{"t":2673,"w":0.96},{"t":2680,"w":0.51},{"t":2688,"w":0.72},{"t":2695,"w":0.85},
{"t":2703,"w":0.65},{"t":2710,"w":0.90},{"t":2718,"w":0.54},{"t":2725,"w":0.78},{"t":2733,"w":0.98},{"t":2740,"w":0.60},{"t":2748,"w":0.73},{"t":2755,"w":0.86},{"t":2763,"w":0.49},{"t":2770,"w":0.69},{"t":2778,"w":0.82},{"t":2785,"w":0.57},{"t":2793,"w":0.94},{"t":2800,"w":0.66},{"t":2808,"w":0.75},{"t":2815,"w":0.44},{"t":2823,"w":0.87},{"t":2830,"w":0.61},{"t":2838,"w":0.80},{"t":2845,"w":0.93},
{"t":2853,"w":0.83},{"t":2860,"w":0.58},{"t":2868,"w":0.95},{"t":2875,"w":0.67},{"t":2883,"w":0.51},{"t":2890,"w":0.80},{"t":2898,"w":0.74},{"t":2905,"w":0.62},{"t":2913,"w":0.89},{"t":2920,"w":0.56},{"t":2928,"w":0.91},{"t":2935,"w":0.70},{"t":2943,"w":0.45},{"t":2950,"w":0.84},{"t":2958,"w":0.63},{"t":2965,"w":0.97},{"t":2973,"w":0.59},{"t":2980,"w":0.78},{"t":2988,"w":0.52},{"t":2995,"w":0.71},
{"t":11,"w":0.283},{"t":56,"w":0.295},{"t":139,"w":0.29},{"t":28,"w":0.254},{"t":100,"w":0.259},{"t":167,"w":0.247},{"t":12,"w":0.228},{"t":195,"w":0.228},{"t":267,"w":0.302},{"t":345,"w":0.299},{"t":306,"w":0.254},{"t":373,"w":0.252},{"t":417,"w":0.247},{"t":445,"w":0.295},{"t":512,"w":0.276},{"t":567,"w":0.264},{"t":584,"w":0.299},{"t":623,"w":0.287},{"t":473,"w":0.23},{"t":346,"w":0.223},
{"t":156,"w":0.207},{"t":239,"w":0.204},{"t":278,"w":0.204},{"t":362,"w":0.195},{"t":150,"w":0.192},{"t":39,"w":0.171},{"t":95,"w":0.152},{"t":250,"w":0.157},{"t":279,"w":0.169},{"t":400,"w":0.159},{"t":501,"w":0.183},{"t":502,"w":0.152},{"t":545,"w":0.152},{"t":601,"w":0.152},{"t":640,"w":0.169},{"t":629,"w":0.2},{"t":679,"w":0.195},{"t":680,"w":0.235},{"t":712,"w":0.14},{"t":779,"w":0.135},
{"t":824,"w":0.145},{"t":251,"w":0.121},{"t":351,"w":0.121},{"t":474,"w":0.116},{"t":602,"w":0.116},{"t":45,"w":0.105},{"t":101,"w":0.093},{"t":157,"w":0.074},{"t":277,"w":0.074},{"t":585,"w":0.097},{"t":583,"w":0.076},{"t":128,"w":0.05},{"t":178,"w":0.05},{"t":223,"w":0.052},{"t":517,"w":0.052},{"t":624,"w":0.052},{"t":825,"w":0.1},{"t":862,"w":0.069},{"t":907,"w":0.01},{"t":935,"w":0.183},
{"t":985,"w":0.105},{"t":807,"w":0.283},{"t":835,"w":0.223},{"t":846,"w":0.211},{"t":902,"w":0.254},{"t":936,"w":0.283},{"t":751,"w":0.271},{"t":790,"w":0.188},{"t":847,"w":0.188},
{"t":1030,"w":0.266},{"t":1096,"w":0.276},{"t":1157,"w":0.271},{"t":1235,"w":0.271},{"t":1269,"w":0.299},{"t":1319,"w":0.299},{"t":1308,"w":0.254},{"t":1347,"w":0.283},{"t":1402,"w":0.283},{"t":1447,"w":0.276},{"t":1380,"w":0.24},{"t":1408,"w":0.211},{"t":1458,"w":0.23},{"t":1514,"w":0.302},{"t":1558,"w":0.271},{"t":1252,"w":0.211},{"t":1280,"w":0.228},{"t":1519,"w":0.216},{"t":1569,"w":0.216},{"t":1630,"w":0.24},
{"t":1697,"w":0.228},{"t":1736,"w":0.228},{"t":1714,"w":0.271},{"t":1770,"w":0.266},{"t":1825,"w":0.283},{"t":1826,"w":0.259},{"t":1864,"w":0.287},{"t":1937,"w":0.264},{"t":1959,"w":0.24},{"t":1820,"w":0.204},{"t":1881,"w":0.207},{"t":1938,"w":0.192},{"t":1987,"w":0.188},{"t":1530,"w":0.183},{"t":1097,"w":0.204},{"t":1095,"w":0.188},{"t":1124,"w":0.164},{"t":1074,"w":0.147},{"t":1185,"w":0.152},{"t":1236,"w":0.159},
{"t":991,"w":0.116},{"t":1075,"w":0.121},{"t":1363,"w":0.14},{"t":1403,"w":0.145},{"t":1491,"w":0.159},{"t":1520,"w":0.145},{"t":1570,"w":0.124},{"t":1631,"w":0.159},{"t":1653,"w":0.133},{"t":1686,"w":0.152},{"t":1708,"w":0.128},{"t":1792,"w":0.135},{"t":1847,"w":0.145},{"t":1903,"w":0.147},{"t":1936,"w":0.176},{"t":1865,"w":0.112},{"t":1920,"w":0.121},{"t":1848,"w":0.097},{"t":1281,"w":0.116},{"t":1320,"w":0.1},
{"t":1430,"w":0.109},{"t":1419,"w":0.088},{"t":1586,"w":0.086},{"t":1625,"w":0.076},{"t":1224,"w":0.076},{"t":1180,"w":0.057},{"t":1098,"w":0.05},{"t":1464,"w":0.057},{"t":1909,"w":0.045},
{"t":2031,"w":0.299},{"t":2070,"w":0.276},{"t":2115,"w":0.276},{"t":2131,"w":0.295},{"t":2159,"w":0.264},{"t":2226,"w":0.271},{"t":2270,"w":0.271},{"t":2298,"w":0.252},{"t":2326,"w":0.299},{"t":2354,"w":0.283},{"t":2421,"w":0.266},{"t":2465,"w":0.283},{"t":2515,"w":0.29},{"t":2543,"w":0.295},{"t":2571,"w":0.266},{"t":2599,"w":0.242},{"t":2632,"w":0.29},{"t":2643,"w":0.252},{"t":2699,"w":0.276},{"t":2727,"w":0.295},
{"t":2794,"w":0.287},{"t":2849,"w":0.259},{"t":2877,"w":0.23},{"t":2938,"w":0.271},{"t":2939,"w":0.23},{"t":2988,"w":0.211},{"t":1992,"w":0.223},{"t":2042,"w":0.228},{"t":2098,"w":0.223},{"t":2198,"w":0.204},{"t":2116,"w":0.192},{"t":2187,"w":0.192},{"t":2365,"w":0.219},{"t":2422,"w":0.188},{"t":2493,"w":0.207},{"t":2544,"w":0.188},{"t":2588,"w":0.2},{"t":2627,"w":0.228},{"t":2728,"w":0.2},{"t":2799,"w":0.207},
{"t":2855,"w":0.188},{"t":2921,"w":0.207},{"t":1976,"w":0.171},{"t":2209,"w":0.159},{"t":2271,"w":0.159},{"t":2337,"w":0.171},{"t":2654,"w":0.169},{"t":2755,"w":0.157},{"t":2827,"w":0.159},{"t":2966,"w":0.152},{"t":2071,"w":0.145},{"t":2076,"w":0.133},{"t":2227,"w":0.135},{"t":2309,"w":0.121},{"t":2487,"w":0.135},{"t":2549,"w":0.135},{"t":2589,"w":0.121},{"t":2633,"w":0.112},{"t":2838,"w":0.121},{"t":2910,"w":0.133},
{"t":2967,"w":0.128},{"t":2160,"w":0.112},{"t":2210,"w":0.105},{"t":2410,"w":0.112},{"t":2460,"w":0.1},{"t":2411,"w":0.088},{"t":2615,"w":0.093},{"t":2771,"w":0.105},{"t":2989,"w":0.097},{"t":2104,"w":0.093},{"t":2254,"w":0.081},{"t":2154,"w":0.069},{"t":2282,"w":0.062},{"t":2338,"w":0.057},{"t":2660,"w":0.074},{"t":2048,"w":0.05},{"t":2521,"w":0.04},{"t":2476,"w":0.029},{"t":2448,"w":0.01}
  ]},
  "mark": {"type": "point", "filled": false, "strokeWidth": 1.1, "size": 121, "opacity": 1},
  "encoding": {
   "x": {"field": "t", "type": "quantitative", "scale": {"domain": [0, 3000], "nice": false}, "axis": {"orient": "bottom", "values": [0, 500, 1000, 1500, 2000, 2500, 3000], "format": "d", "labelPadding": 17, "title": "İterasyon (Iteration)", "titleY": 29, "titleBaseline": "top"}},
   "y": {"field": "w", "type": "quantitative", "scale": {"domain": [0, 1], "nice": false, "zero": false}, "axis": {"orient": "left", "values": [0, 0.1, 0.2, 0.3, 0.4, 0.5, 0.6, 0.7, 0.8, 0.9, 1], "format": "~g", "labelPadding": 11, "title": "Atalet Ağırlığı (Inertia Weight)", "titleX": -45, "titleBaseline": "middle"}},
   "color": {"datum": "Kaotik Ağırlık", "type": "nominal", "scale": {"domain": ["Kaotik Ağırlık", "Doğrusal Ağırlık"], "range": ["#0072BD", "#D95319"]}, "legend": {"orient": "none", "legendX": 347, "legendY": 15, "encode": {"symbols": {"update": {"opacity": {"signal": "datum.value === 'Doğrusal Ağırlık' ? 0.6 : 1"}}}}}},
   "shape": {"datum": "Kaotik Ağırlık", "type": "nominal", "scale": {"domain": ["Kaotik Ağırlık", "Doğrusal Ağırlık"], "range": ["M-1,0L1,0M0,-1L0,1", "circle"]}, "legend": {"orient": "none", "legendX": 347, "legendY": 15, "encode": {"symbols": {"update": {"opacity": {"signal": "datum.value === 'Doğrusal Ağırlık' ? 0.6 : 1"}}}}}}
  }
 },
 {
  "data": {"values": [
{"t":0,"w":0.9},{"t":30,"w":0.895},{"t":60,"w":0.89},{"t":90,"w":0.885},{"t":120,"w":0.88},{"t":150,"w":0.875},{"t":180,"w":0.87},{"t":210,"w":0.865},{"t":240,"w":0.86},{"t":270,"w":0.855},{"t":300,"w":0.85},{"t":330,"w":0.845},{"t":360,"w":0.84},{"t":390,"w":0.835},{"t":420,"w":0.83},{"t":450,"w":0.825},{"t":480,"w":0.82},{"t":510,"w":0.815},{"t":540,"w":0.81},{"t":570,"w":0.805},
{"t":600,"w":0.8},{"t":630,"w":0.795},{"t":660,"w":0.79},{"t":690,"w":0.785},{"t":720,"w":0.78},{"t":750,"w":0.775},{"t":780,"w":0.77},{"t":810,"w":0.765},{"t":840,"w":0.76},{"t":870,"w":0.755},{"t":900,"w":0.75},{"t":930,"w":0.745},{"t":960,"w":0.74},{"t":990,"w":0.735},{"t":1020,"w":0.73},{"t":1050,"w":0.725},{"t":1080,"w":0.72},{"t":1110,"w":0.715},{"t":1140,"w":0.71},{"t":1170,"w":0.705},
{"t":1200,"w":0.7},{"t":1230,"w":0.695},{"t":1260,"w":0.69},{"t":1290,"w":0.685},{"t":1320,"w":0.68},{"t":1350,"w":0.675},{"t":1380,"w":0.67},{"t":1410,"w":0.665},{"t":1440,"w":0.66},{"t":1470,"w":0.655},{"t":1500,"w":0.65},{"t":1530,"w":0.645},{"t":1560,"w":0.64},{"t":1590,"w":0.635},{"t":1620,"w":0.63},{"t":1650,"w":0.625},{"t":1680,"w":0.62},{"t":1710,"w":0.615},{"t":1740,"w":0.61},{"t":1770,"w":0.605},
{"t":1800,"w":0.6},{"t":1830,"w":0.595},{"t":1860,"w":0.59},{"t":1890,"w":0.585},{"t":1920,"w":0.58},{"t":1950,"w":0.575},{"t":1980,"w":0.57},{"t":2010,"w":0.565},{"t":2040,"w":0.56},{"t":2070,"w":0.555},{"t":2100,"w":0.55},{"t":2130,"w":0.545},{"t":2160,"w":0.54},{"t":2190,"w":0.535},{"t":2220,"w":0.53},{"t":2250,"w":0.525},{"t":2280,"w":0.52},{"t":2310,"w":0.515},{"t":2340,"w":0.51},{"t":2370,"w":0.505},
{"t":2400,"w":0.5},{"t":2430,"w":0.495},{"t":2460,"w":0.49},{"t":2490,"w":0.485},{"t":2520,"w":0.48},{"t":2550,"w":0.475},{"t":2580,"w":0.47},{"t":2610,"w":0.465},{"t":2640,"w":0.46},{"t":2670,"w":0.455},{"t":2700,"w":0.45},{"t":2730,"w":0.445},{"t":2760,"w":0.44},{"t":2790,"w":0.435},{"t":2820,"w":0.43},{"t":2850,"w":0.425},{"t":2880,"w":0.42},{"t":2910,"w":0.415},{"t":2940,"w":0.41},{"t":2970,"w":0.405},{"t":3000,"w":0.4}
  ]},
  "mark": {"type": "point", "shape": "circle", "filled": false, "color": "#D95319", "strokeWidth": 5, "size": 50, "opacity": 1},
  "encoding": {
   "x": {"field": "t", "type": "quantitative", "axis": {"orient": "top", "values": [0, 500, 1000, 1500, 2000, 2500, 3000], "labels": false, "title": null}},
   "y": {"field": "w", "type": "quantitative", "axis": {"orient": "right", "values": [0, 0.1, 0.2, 0.3, 0.4, 0.5, 0.6, 0.7, 0.8, 0.9, 1], "labels": false, "title": null}}
  }
 }
],
"resolve": {"axis": {"x": "independent", "y": "independent"}}
}
